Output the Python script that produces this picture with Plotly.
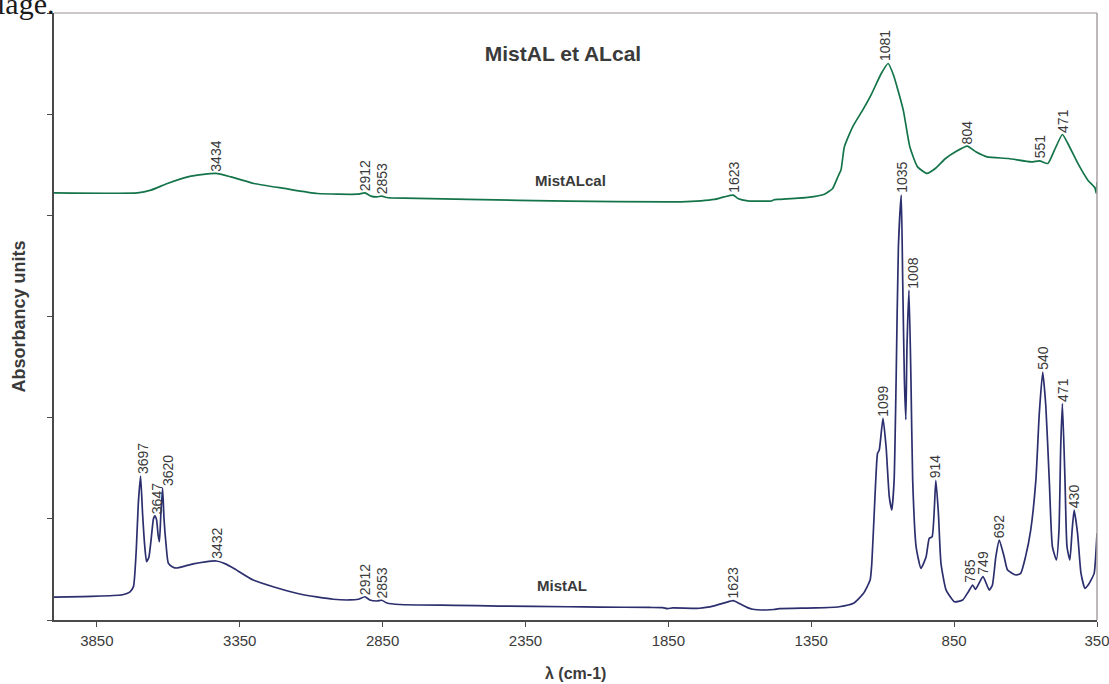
import numpy as np
import plotly.graph_objects as go

# --- Spectrum: MistAL (wavenumber in cm-1, absorbance) ---
wn_mistal = [4000, 3900, 3836, 3760, 3735, 3722, 3712, 3705, 3697, 3690, 3683, 3676,
             3668, 3660, 3652, 3647, 3641, 3636, 3631, 3626, 3620, 3615, 3608, 3600,
             3585, 3571, 3540, 3513, 3470, 3432, 3400, 3373, 3303, 3233, 3140, 3023,
             2965, 2935, 2912, 2895, 2870, 2853, 2835, 2790, 2600, 2441, 2200, 2091,
             1916, 1870, 1853, 1835, 1741, 1690, 1650, 1623, 1600, 1575, 1555, 1508,
             1480, 1462, 1333, 1252, 1202, 1167, 1144, 1138, 1127, 1118, 1112, 1099,
             1088, 1077, 1068, 1060, 1053, 1045, 1035, 1030, 1024, 1019, 1015, 1008,
             1001, 995, 983, 966, 948, 937, 927, 914, 905, 896, 878, 849, 820, 800,
             785, 775, 749, 727, 716, 704, 692, 675, 663, 634, 617, 600, 582, 564,
             552, 540, 529, 517, 506, 492, 483, 477, 471, 462, 455, 445, 437, 430,
             418, 406, 392, 381, 371, 360, 350]
abs_mistal = [0.227, 0.232, 0.237, 0.250, 0.275, 0.33, 0.70, 1.15, 1.423, 1.05, 0.75, 0.576,
              0.62, 0.80, 1.00, 1.03, 0.99, 0.85, 0.774, 1.05, 1.305, 1.00, 0.75, 0.563,
              0.525, 0.514, 0.535, 0.554, 0.575, 0.583, 0.555, 0.514, 0.395, 0.329, 0.257, 0.205,
              0.198, 0.205, 0.23, 0.198, 0.188, 0.195, 0.168, 0.153, 0.145, 0.138, 0.131, 0.128,
              0.124, 0.122, 0.112, 0.120, 0.116, 0.140, 0.172, 0.191, 0.160, 0.125, 0.106, 0.099,
              0.104, 0.112, 0.119, 0.131, 0.165, 0.264, 0.395, 0.563, 1.219, 1.648, 1.680, 1.994,
              1.71, 1.22, 1.087, 1.38, 2.37, 3.69, 4.20, 3.36, 2.37, 1.98, 2.70, 3.26,
              2.37, 1.38, 0.724, 0.511, 0.626, 0.807, 0.823, 1.38, 1.054, 0.56, 0.296, 0.181, 0.198, 0.28,
              0.346, 0.303, 0.428, 0.296, 0.346, 0.626, 0.79, 0.626, 0.494, 0.445, 0.461, 0.626, 0.889, 1.38,
              2.04, 2.45, 2.11, 1.38, 0.724, 0.593, 0.889, 1.71, 2.14, 1.38, 0.724, 0.593, 0.889, 1.087,
              0.857, 0.461, 0.313, 0.346, 0.395, 0.461, 0.857]

# --- Spectrum: MistALcal ---
wn_cal = [4000, 3708, 3661, 3603, 3521, 3434, 3381, 3300, 3194, 3078, 2938, 2912,
          2891, 2870, 2853, 2835, 2821, 2552, 2202, 1852, 1806, 1736, 1690, 1654,
          1623, 1607, 1572, 1514, 1490, 1482, 1467, 1362, 1304, 1275, 1257, 1246,
          1234, 1205, 1170, 1141, 1105, 1081, 1062, 1028, 1005, 978, 945, 916,
          880, 845, 804, 774, 735, 660, 580, 551, 522, 499, 471, 452, 417, 382,
          357, 353, 350]
abs_cal = [4.222, 4.222, 4.249, 4.315, 4.387, 4.414, 4.380, 4.315, 4.266, 4.216, 4.209, 4.222,
           4.190, 4.182, 4.190, 4.176, 4.173, 4.157, 4.140, 4.133, 4.133, 4.143, 4.157, 4.183,
           4.200, 4.167, 4.143, 4.140, 4.142, 4.152, 4.157, 4.177, 4.209, 4.266, 4.380, 4.447,
           4.677, 4.875, 5.040, 5.188, 5.402, 5.501, 5.385, 5.040, 4.677, 4.479, 4.414, 4.463,
           4.562, 4.628, 4.684, 4.628, 4.578, 4.562, 4.529, 4.539, 4.513, 4.644, 4.799, 4.710,
           4.513, 4.348, 4.27, 4.22, 4.33]

# --- Peak labels ---
peaks_mistal = [3697, 3647, 3620, 3432, 2912, 2853, 1623, 1099, 1035, 1008, 914,
                785, 749, 692, 540, 471, 430]
peaks_cal = [3434, 2912, 2853, 1623, 1081, 804, 551, 471]

x_ticks = [3850, 3350, 2850, 2350, 1850, 1350, 850, 350]

NAVY = "#2c2f6e"
GREEN = "#147449"
TXT = "#3a3a3a"
FONT = "Liberation Sans, Arial, sans-serif"

fig = go.Figure()
fig.add_trace(go.Scatter(x=wn_cal, y=abs_cal, mode="lines", name="MistALcal",
                         line=dict(color=GREEN, width=1.7, shape="spline", smoothing=0.5)))
fig.add_trace(go.Scatter(x=wn_mistal, y=abs_mistal, mode="lines", name="MistAL",
                         line=dict(color=NAVY, width=1.7, shape="spline", smoothing=0.5)))


def curve_at(wn_list, a_list, w):
    xs = np.array(wn_list[::-1], dtype=float)
    ys = np.array(a_list[::-1], dtype=float)
    return float(np.interp(w, xs, ys))


# small horizontal nudges so neighbouring labels don't collide
label_shift = {("mistal", 3697): 2, ("mistal", 3647): 2, ("mistal", 3620): 6,
               ("mistal", 1008): 4, ("mistal", 785): -3, ("cal", 1081): -3}

annotations = []
for key, wns, vals, peaks in (("mistal", wn_mistal, abs_mistal, peaks_mistal),
                              ("cal", wn_cal, abs_cal, peaks_cal)):
    for p in peaks:
        annotations.append(dict(
            x=p, y=curve_at(wns, vals, p), xref="x", yref="y",
            text=str(p), showarrow=False, textangle=-90,
            xanchor="center", yanchor="bottom", yshift=0,
            xshift=label_shift.get((key, p), 0),
            font=dict(family=FONT, size=14, color=TXT)))

# series names placed on the curves
annotations.append(dict(x=2191, y=4.34, xref="x", yref="y", text="<b>MistALcal</b>",
                        showarrow=False, font=dict(family=FONT, size=15, color=TXT)))
annotations.append(dict(x=2222, y=0.34, xref="x", yref="y", text="<b>MistAL</b>",
                        showarrow=False, font=dict(family=FONT, size=15, color=TXT)))

# trailing text of the surrounding page, clipped at the top-left corner
annotations.append(dict(x=-0.001, y=1, xref="paper", yref="paper", text="lage.",
                        showarrow=False, xanchor="right", yanchor="bottom",
                        xshift=3, yshift=-9,
                        font=dict(family="Liberation Serif, Times New Roman, serif",
                                  size=30, color="#1a1a1a")))

# axis titles
annotations.append(dict(x=0.5, y=0, xref="paper", yref="paper", text="<b>λ (cm-1)</b>",
                        showarrow=False, xanchor="center", yanchor="middle", yshift=-53,
                        font=dict(family=FONT, size=16, color=TXT)))
annotations.append(dict(x=0, y=0.5, xref="paper", yref="paper", text="<b>Absorbancy units</b>",
                        showarrow=False, xanchor="center", yanchor="middle", xshift=-36,
                        textangle=-90, font=dict(family=FONT, size=18, color=TXT)))

fig.update_layout(
    width=1109, height=684,
    margin=dict(l=54, r=12, t=13, b=64),
    paper_bgcolor="white", plot_bgcolor="white",
    showlegend=False,
    title=dict(text="<b>MistAL et ALcal</b>", x=0.488, xref="paper",
               y=1 - 53.5 / 684, yref="container", xanchor="center", yanchor="middle",
               font=dict(family=FONT, size=21, color=TXT)),
    annotations=annotations,
    shapes=[
        dict(type="line", xref="paper", yref="paper", x0=0, x1=1, y0=1, y1=1,
             line=dict(color="#bdb4b4", width=1.5)),
        dict(type="line", xref="paper", yref="paper", x0=1, x1=1, y0=0, y1=1,
             line=dict(color="#aaa0a0", width=1.5)),
    ],
)

fig.update_xaxes(
    range=[4000, 350], tickvals=x_ticks, ticktext=[str(v) for v in x_ticks],
    showgrid=False, zeroline=False, automargin=False,
    showline=True, linecolor="#4a4a4a", linewidth=1.5,
    ticks="outside", ticklen=5, tickcolor="#4a4a4a", tickwidth=1.2,
    ticklabelstandoff=1, ticklabeloverflow="allow",
    tickfont=dict(family=FONT, size=15, color=TXT),
)
fig.update_yaxes(
    range=[0, 6], dtick=1, showticklabels=False,
    showgrid=False, zeroline=False, automargin=False,
    showline=True, linecolor="#4a4a4a", linewidth=1.5,
    ticks="outside", ticklen=5, tickcolor="#4a4a4a", tickwidth=1.2,
)

fig.write_html("out.html")
